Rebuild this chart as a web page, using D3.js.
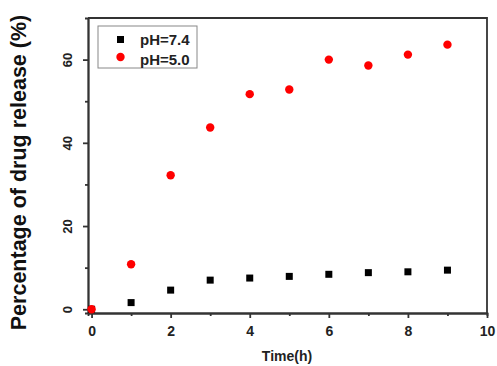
<!doctype html>
<html lang="en">
  <head>
    <meta charset="UTF-8" />
    <title>Drug release</title>
    <script src="https://d3js.org/d3.v7.min.js"></script>
    <style>
      body {
        margin: 0;
        padding: 0;
        background: #fff;
        font-family: Arial, 'Liberation Sans', sans-serif;
      }
      .axis path,
      .axis line {
        stroke: #333;
        stroke-width: 1.8px;
      }
      .axis text {
        font-size: 13px;
        font-weight: bold;
        fill: #222;
      }
    </style>
  </head>
  <body>
    <svg id="chart" width="497" height="366"></svg>
    <script>
      const times = [0, 1, 2, 3, 4, 5, 6, 7, 8, 9];
      const ph74 = [0, 1.6, 4.6, 7.0, 7.5, 7.9, 8.4, 8.8, 9.0, 9.4];
      const ph50 = [0, 10.8, 32.2, 43.7, 51.7, 52.8, 60.0, 58.6, 61.2, 63.6];
      const xTicks = [0, 2, 4, 6, 8, 10];
      const yTicks = [0, 20, 40, 60];

      const margin = { top: 18, right: 10, bottom: 53, left: 88 };
      const width = 497 - margin.left - margin.right;
      const height = 366 - margin.top - margin.bottom;

      const svg = d3
        .select('#chart')
        .append('g')
        .attr('transform', `translate(${margin.left},${margin.top})`);

      const x = d3.scaleLinear().domain([-0.09, 10]).range([0, 399]);
      const y = d3.scaleLinear().domain([-0.9, 70]).range([height, 0]);

      // minor ticks
      svg
        .append('g')
        .attr('class', 'axis')
        .attr('transform', `translate(0,${height})`)
        .call(d3.axisBottom(x).tickValues([1, 3, 5, 7, 9]).tickSize(3).tickFormat(''));
      svg
        .append('g')
        .attr('class', 'axis')
        .call(d3.axisLeft(y).tickValues([10, 30, 50]).tickSize(3).tickFormat(''));

      // major axes
      svg
        .append('g')
        .attr('class', 'axis')
        .attr('transform', `translate(0,${height})`)
        .call(d3.axisBottom(x).tickValues(xTicks).tickSize(5).tickSizeOuter(0))
        .selectAll('text')
        .attr('dy', '1.1em')
        .style('font-size', '14px');

      const yAxis = svg
        .append('g')
        .attr('class', 'axis')
        .call(d3.axisLeft(y).tickValues(yTicks).tickSize(5).tickSizeOuter(0));
      yAxis
        .selectAll('.tick text')
        .attr('transform', 'rotate(-90)')
        .attr('x', 0)
        .attr('y', -16)
        .attr('dy', 0)
        .attr('text-anchor', 'middle');

      // frame top and right
      svg
        .append('path')
        .attr('d', `M0,0H399V${height}`)
        .attr('fill', 'none')
        .attr('stroke', '#333')
        .attr('stroke-width', 1.8);

      // points
      svg
        .selectAll('.sq')
        .data(times)
        .enter()
        .append('rect')
        .attr('x', (d) => x(d) - 3.5)
        .attr('y', (d, i) => y(ph74[i]) - 3.5)
        .attr('width', 7)
        .attr('height', 7)
        .attr('fill', '#000');

      svg
        .selectAll('.dot')
        .data(times)
        .enter()
        .append('circle')
        .attr('cx', (d) => x(d))
        .attr('cy', (d, i) => y(ph50[i]))
        .attr('r', 4.2)
        .attr('fill', '#f00');

      // legend
      const legend = svg.append('g').attr('transform', 'translate(10,8)');
      legend
        .append('rect')
        .attr('width', 99)
        .attr('height', 42)
        .attr('fill', '#fff')
        .attr('stroke', '#888')
        .attr('stroke-width', 1);
      legend
        .append('rect')
        .attr('x', 19)
        .attr('y', 10)
        .attr('width', 7)
        .attr('height', 7)
        .attr('fill', '#000');
      legend.append('circle').attr('cx', 22.5).attr('cy', 31).attr('r', 4.2).attr('fill', '#f00');
      legend
        .selectAll('.lt')
        .data(['pH=7.4', 'pH=5.0'])
        .enter()
        .append('text')
        .attr('x', 42)
        .attr('y', (d, i) => 19 + i * 20)
        .style('font-size', '15px')
        .style('font-weight', 'bold')
        .style('fill', '#222')
        .text((d) => d);

      // axis titles
      svg
        .append('text')
        .attr('x', 199)
        .attr('y', height + 48)
        .attr('text-anchor', 'middle')
        .style('font-size', '14px')
        .style('font-weight', 'bold')
        .style('fill', '#222')
        .text('Time(h)');

      svg
        .append('text')
        .attr('transform', `translate(-62,154.5) rotate(-90)`)
        .attr('text-anchor', 'middle')
        .style('font-size', '21.5px')
        .style('font-weight', 'bold')
        .style('fill', '#111')
        .text('Percentage of drug release (%)');
    </script>
  </body>
</html>
